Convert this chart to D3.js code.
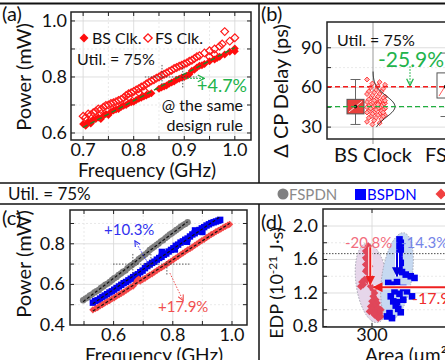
<!DOCTYPE html>
<html>
<head>
<meta charset="utf-8">
<script src="https://cdn.jsdelivr.net/npm/d3@7"></script>
<style>
  html, body { margin: 0; padding: 0; background: #fff; }
  svg { display: block; font-family: Lato, "Open Sans", sans-serif; }
</style>
</head>
<body>
<svg id="fig" width="445" height="360"></svg>
<script>
// ---- (a) power vs frequency, BS clock vs FS clock ----
const aBsClk = [[0.700,0.632],[0.705,0.626],[0.710,0.640],[0.715,0.634],[0.720,0.646],[0.725,0.650],[0.730,0.655],[0.735,0.650],[0.740,0.662],[0.745,0.668],[0.750,0.664],[0.755,0.676],[0.760,0.680],[0.765,0.684],[0.770,0.686],[0.775,0.693],[0.780,0.697],[0.785,0.700],[0.790,0.706],[0.795,0.710],[0.800,0.712],[0.805,0.718],[0.810,0.722],[0.815,0.726],[0.820,0.730],[0.825,0.734],[0.830,0.738],[0.835,0.742],[0.850,0.758],[0.855,0.762],[0.860,0.766],[0.865,0.770],[0.870,0.776],[0.875,0.780],[0.880,0.784],[0.885,0.790],[0.890,0.794],[0.895,0.798],[0.900,0.800],[0.905,0.804],[0.910,0.810],[0.915,0.822],[0.920,0.826],[0.925,0.834],[0.930,0.840],[0.935,0.842],[0.940,0.846],[0.950,0.856],[0.960,0.862],[0.965,0.868],[0.970,0.872],[0.980,0.880],[0.990,0.890],[1.000,0.902],[1.000,0.892]];
const aFsClk = [[0.700,0.660],[0.705,0.655],[0.710,0.668],[0.715,0.664],[0.720,0.672],[0.725,0.678],[0.730,0.686],[0.735,0.684],[0.740,0.692],[0.745,0.698],[0.750,0.700],[0.755,0.705],[0.760,0.708],[0.765,0.712],[0.770,0.716],[0.775,0.720],[0.780,0.726],[0.785,0.734],[0.790,0.740],[0.795,0.744],[0.800,0.748],[0.805,0.754],[0.810,0.758],[0.815,0.764],[0.820,0.768],[0.825,0.775],[0.830,0.780],[0.835,0.786],[0.840,0.790],[0.845,0.796],[0.850,0.800],[0.855,0.806],[0.860,0.810],[0.865,0.814],[0.870,0.820],[0.875,0.824],[0.880,0.830],[0.885,0.834],[0.890,0.838],[0.895,0.842],[0.900,0.846],[0.905,0.850],[0.910,0.856],[0.915,0.860],[0.920,0.866],[0.925,0.872],[0.930,0.876],[0.940,0.886],[0.950,0.894],[0.960,0.900],[0.970,0.910],[0.975,0.918],[0.980,0.962],[0.990,0.928],[1.000,0.940],[0.790,0.728],[0.810,0.745],[0.820,0.752],[0.950,0.872],[0.960,0.880]];
const aFit = [[0.70, 0.620], [1.00, 0.905]];
const aXTicks = [0.7, 0.8, 0.9, 1.0];
const aYTicks = [0.6, 0.8, 1.0];

// ---- (b) delta critical-path delay ----
const bCats = ["BS Clock", "FS Clock"];
const bQ1 = [40, 52];
const bQ3 = [51, 71];
const bLo = [32, 38];
const bHi = [66, 86];
const bMean = [45.5, 60.5];
const bBsDelay = [66,64,63,62,61,60,59,58,57,57,56,55,55,54,53,53,52,52,51,51,50,50,49,49,48,48,48,47,47,47,46,46,46,45,45,45,44,44,44,43,43,42,42,41,41,40,40,39,39,38,38,37,37,36,35,34,33,32,50,47,44,41];
const bYTicks = [30, 60, 90];

// ---- (c) power vs frequency, three PDN styles ----
const cFspdn = [[0.497,0.522],[0.505,0.530],[0.512,0.536],[0.520,0.545],[0.527,0.551],[0.535,0.560],[0.542,0.566],[0.550,0.573],[0.557,0.582],[0.565,0.590],[0.572,0.598],[0.580,0.604],[0.587,0.612],[0.595,0.622],[0.602,0.630],[0.610,0.636],[0.617,0.646],[0.625,0.654],[0.632,0.662],[0.640,0.668],[0.647,0.680],[0.655,0.688],[0.662,0.696],[0.670,0.704],[0.677,0.712],[0.685,0.724],[0.692,0.732],[0.700,0.740],[0.707,0.748],[0.715,0.758],[0.722,0.770],[0.730,0.778],[0.737,0.786],[0.745,0.794],[0.752,0.802],[0.760,0.812],[0.767,0.818],[0.775,0.828],[0.782,0.836],[0.790,0.846],[0.797,0.852],[0.805,0.860],[0.812,0.868],[0.820,0.876],[0.827,0.884],[0.835,0.892],[0.842,0.898],[0.850,0.906]];
const cBspdn = [[0.530,0.510],[0.538,0.518],[0.546,0.522],[0.554,0.530],[0.562,0.538],[0.570,0.545],[0.578,0.552],[0.586,0.560],[0.594,0.566],[0.602,0.574],[0.610,0.582],[0.618,0.590],[0.626,0.598],[0.634,0.606],[0.642,0.612],[0.650,0.620],[0.658,0.628],[0.666,0.636],[0.674,0.644],[0.682,0.650],[0.690,0.660],[0.698,0.668],[0.706,0.680],[0.714,0.690],[0.722,0.698],[0.730,0.706],[0.738,0.712],[0.746,0.722],[0.754,0.730],[0.762,0.736],[0.770,0.746],[0.778,0.752],[0.786,0.762],[0.794,0.770],[0.802,0.778],[0.810,0.790],[0.818,0.796],[0.826,0.806],[0.834,0.812],[0.842,0.820],[0.850,0.826],[0.858,0.836],[0.866,0.846],[0.874,0.852],[0.882,0.860],[0.890,0.868],[0.898,0.876],[0.906,0.882],[0.914,0.890],[0.922,0.896],[0.930,0.902],[0.938,0.906],[0.946,0.910],[0.954,0.914],[0.960,0.918],[0.763,0.760],[0.807,0.772],[0.848,0.810],[0.875,0.866],[0.900,0.858]];
const cBsClk = [[0.530,0.475],[0.538,0.480],[0.546,0.486],[0.554,0.494],[0.562,0.500],[0.570,0.508],[0.578,0.514],[0.586,0.520],[0.594,0.528],[0.602,0.534],[0.610,0.542],[0.618,0.548],[0.626,0.556],[0.634,0.562],[0.642,0.570],[0.650,0.578],[0.658,0.586],[0.666,0.592],[0.674,0.606],[0.680,0.620],[0.685,0.626],[0.690,0.616],[0.698,0.624],[0.706,0.630],[0.714,0.638],[0.722,0.646],[0.730,0.652],[0.738,0.660],[0.746,0.668],[0.754,0.676],[0.762,0.682],[0.770,0.690],[0.778,0.698],[0.786,0.706],[0.794,0.714],[0.802,0.722],[0.810,0.730],[0.818,0.738],[0.826,0.746],[0.834,0.754],[0.842,0.762],[0.850,0.770],[0.858,0.776],[0.866,0.784],[0.874,0.792],[0.882,0.800],[0.890,0.808],[0.898,0.816],[0.906,0.822],[0.914,0.830],[0.922,0.838],[0.930,0.846],[0.938,0.852],[0.946,0.860],[0.954,0.866],[0.962,0.872],[0.970,0.880],[0.978,0.886],[0.986,0.892],[0.992,0.896]];
const cXTicks = [0.6, 0.8, 1.0];
const cYTicks = [0.4, 0.6, 0.8];

// ---- (d) EDP vs area ----
const dBsClk = [[298.5,1.76],[298.5,1.72],[298.0,1.68],[298.5,1.64],[298.0,1.60],[298.5,1.56],[299.0,1.52],[298.0,1.48],[298.5,1.44],[299.0,1.40],[297.5,1.70],[297.5,1.62],[297.5,1.54],[297.5,1.46],[296.0,1.33],[295.5,1.28],[296.5,1.30],[297.0,1.36],[298.5,1.34],[299.5,1.28],[300.5,1.24],[301.0,1.20],[300.5,1.16],[301.5,1.12],[300.0,1.10],[302.0,1.08],[301.0,1.05],[299.5,1.04],[300.0,1.00],[301.5,0.98],[302.5,1.02],[303.0,0.96],[302.0,0.93],[303.5,0.92],[301.0,0.94],[302.5,0.90],[300.5,0.96],[303.5,1.00],[299.0,0.98]];
const dBspdn = [[311.0,1.84],[311.5,1.80],[311.0,1.76],[311.5,1.72],[311.0,1.68],[310.5,1.64],[311.0,1.60],[311.5,1.56],[311.0,1.52],[310.5,1.48],[312.0,1.45],[313.5,1.42],[315.5,1.40],[317.0,1.38],[306.5,1.32],[308.0,1.30],[310.0,1.33],[312.5,1.26],[309.0,1.22],[311.0,1.19],[314.0,1.22],[316.0,1.16],[307.5,1.16],[308.5,1.10],[309.5,1.05],[310.5,1.01],[311.5,0.97],[307.0,0.96],[306.0,0.92],[308.0,0.90],[310.0,1.09],[312.5,1.12]];
const dYTicks = [0.8, 1.2, 1.6, 2.0];
const dXTicks = [300];

const svg = d3.select("#fig");
const defs = svg.append("defs");
["#22b34c", "#3030ee", "#f05050"].forEach((c, i) => {
  defs.append("marker").attr("id", "arr" + i)
    .attr("viewBox", "0 0 10 10").attr("refX", 9).attr("refY", 5)
    .attr("markerWidth", 7).attr("markerHeight", 7).attr("orient", "auto")
    .append("path").attr("d", "M1,1 L9,5 L1,9").attr("fill", "none")
    .attr("stroke", c).attr("stroke-width", 1.6);
});
defs.append("marker").attr("id", "head-red").attr("viewBox", "0 0 10 10")
  .attr("refX", 9).attr("refY", 5).attr("markerWidth", 5).attr("markerHeight", 5)
  .attr("orient", "auto").append("path").attr("d", "M0,0 L10,5 L0,10 Z").attr("fill", "#ee2020");
defs.append("marker").attr("id", "head-blue").attr("viewBox", "0 0 10 10")
  .attr("refX", 9).attr("refY", 5).attr("markerWidth", 5).attr("markerHeight", 5)
  .attr("orient", "auto").append("path").attr("d", "M0,0 L10,5 L0,10 Z").attr("fill", "#0000dd");

const diamond = s => d3.symbol().type(d3.symbolSquare).size(s)();

// grid, frame and inward ticks for one panel
function frame(g, x0, x1, y0, y1, xs, ys) {
  const grid = g.append("g").attr("stroke-width", 0.8);
  xs.forEach(v => grid.append("line").attr("x1", v.p).attr("x2", v.p).attr("y1", y0).attr("y2", y1)
    .attr("stroke", v.major ? "#d6d6d6" : "#e3e3e3").attr("stroke-dasharray", v.major ? null : "2,2"));
  ys.forEach(v => grid.append("line").attr("x1", x0).attr("x2", x1).attr("y1", v.p).attr("y2", v.p)
    .attr("stroke", v.major ? "#d6d6d6" : "#e3e3e3").attr("stroke-dasharray", v.major ? null : "2,2"));
  const t = g.append("g").attr("stroke", "#222").attr("stroke-width", 1);
  xs.forEach(v => {
    t.append("line").attr("x1", v.p).attr("x2", v.p).attr("y1", y0).attr("y2", y0 - 4);
    t.append("line").attr("x1", v.p).attr("x2", v.p).attr("y1", y1).attr("y2", y1 + 4);
  });
  ys.forEach(v => {
    t.append("line").attr("x1", x0).attr("x2", x0 + 4).attr("y1", v.p).attr("y2", v.p);
    t.append("line").attr("x1", x1).attr("x2", x1 - 4).attr("y1", v.p).attr("y2", v.p);
  });
}
function border(g, x0, x1, y0, y1) {
  g.append("rect").attr("x", x0).attr("y", y1).attr("width", x1 - x0).attr("height", y0 - y1)
    .attr("fill", "none").attr("stroke", "#222").attr("stroke-width", 1.5);
}
function label(txt, x, y, size, opts = {}) {
  return svg.append("text").attr("x", x).attr("y", y).attr("font-size", size)
    .attr("fill", opts.fill || "#111").attr("text-anchor", opts.anchor || "start")
    .attr("transform", opts.rot ? `rotate(-90,${x},${y})` : null).text(txt);
}
const fmt1 = d3.format(".1f");

// ================= panel (a) =================
{
  const x = d3.scaleLinear().domain([0.676, 1.032]).range([71, 251]);
  const y = d3.scaleLinear().domain([0.575, 1.032]).range([140, 12]);
  const g = svg.append("g");
  const xs = [0.7, 0.75, 0.8, 0.85, 0.9, 0.95, 1.0].map(v => ({ p: x(v), major: aXTicks.includes(v) }));
  const ys = [0.6, 0.7, 0.8, 0.9, 1.0].map(v => ({ p: y(v), major: aYTicks.includes(v) }));
  frame(g, 71, 251, 140, 12, xs, ys);

  g.selectAll(".fs").data(aFsClk).join("path")
    .attr("d", diamond(30)).attr("transform", d => `translate(${x(d[0])},${y(d[1])}) rotate(45)`)
    .attr("fill", "none").attr("stroke", "#ff1a1a").attr("stroke-width", 1.2);
  g.selectAll(".bs").data(aBsClk).join("path")
    .attr("d", diamond(32)).attr("transform", d => `translate(${x(d[0])},${y(d[1])}) rotate(45)`)
    .attr("fill", "#ff0d0d");
  g.append("path").datum(aFit).attr("d", d3.line().x(d => x(d[0])).y(d => y(d[1])))
    .attr("stroke", "#1a8a2a").attr("stroke-width", 1.4).attr("stroke-dasharray", "5,3").attr("fill", "none");

  // cross-hair guides
  const ch = g.append("g").attr("stroke", "#333").attr("stroke-width", 0.8).attr("stroke-dasharray", "1.5,1.5");
  ch.append("line").attr("x1", x(0.822)).attr("x2", x(0.925)).attr("y1", y(0.80)).attr("y2", y(0.80));
  ch.append("line").attr("x1", x(0.856)).attr("x2", x(0.856)).attr("y1", y(0.843)).attr("y2", y(0.771));
  ch.append("line").attr("x1", x(0.897)).attr("x2", x(0.897)).attr("y1", y(0.843)).attr("y2", y(0.761));
  g.append("line").attr("x1", x(0.90)).attr("x2", x(0.94)).attr("y1", y(0.795)).attr("y2", y(0.795))
    .attr("stroke", "#22b34c").attr("stroke-width", 1.2).attr("stroke-dasharray", "1.5,1.5")
    .attr("marker-end", "url(#arr0)");
  border(g, 71, 251, 140, 12);

  aYTicks.forEach(v => label(fmt1(v), 67, y(v) + 6, 18, { anchor: "end" }));
  aXTicks.forEach(v => label(fmt1(v), x(v), 156, 18, { anchor: "middle" }));
  label("Frequency (GHz)", 147, 177, 19, { anchor: "middle" });
  label("Power (mW)", 31, 77, 20, { anchor: "middle", rot: true });
  label("(a)", 2, 21, 20);

  // legend
  g.append("path").attr("d", diamond(40)).attr("transform", "translate(84,38) rotate(45)").attr("fill", "#ff0d0d");
  label("BS Clk.", 92, 44, 16);
  g.append("path").attr("d", diamond(34)).attr("transform", "translate(148,38) rotate(45)")
    .attr("fill", "#fff").attr("stroke", "#ff1a1a").attr("stroke-width", 1.4);
  label("FS Clk.", 155, 44, 16);
  label("Util. = 75%", 77, 65, 16);
  label("+4.7%", 197, 92, 18, { fill: "#22b34c" });
  label("@ the same", 243, 111, 16, { anchor: "end" });
  label("design rule", 243, 131, 16, { anchor: "end" });
}

// ================= panel (b) =================
{
  const x = d3.scalePoint().domain(bCats).range([373, 463]);
  const y = d3.scaleLinear().domain([21, 109.5]).range([139, 22]);
  const g = svg.append("g");
  const ys = [30, 45, 60, 75, 90].map(v => ({ p: y(v), major: bYTicks.includes(v) }));
  frame(g, 327, 530, 139, 22, [], ys);
  bCats.forEach(c => {
    g.append("line").attr("x1", x(c)).attr("x2", x(c)).attr("y1", 22).attr("y2", 144)
      .attr("stroke", "#999").attr("stroke-width", 1);
  });

  // scatter of BS clock designs
  g.selectAll(".pt").data(bBsDelay).join("path")
    .attr("d", diamond(12))
    .attr("transform", (d, i) => `translate(${x("BS Clock") - 6 + ((i * 7) % 11) * 1.8},${y(d)}) rotate(45)`)
    .attr("fill", "#ffb0b0").attr("stroke", "#f22").attr("stroke-width", 0.8);

  // fitted normal curve
  const mu = bMean[0], sd = 8;
  const vals = d3.range(30, 72.5, 0.5);
  g.append("path").datum(vals)
    .attr("d", d3.line().x(v => x("BS Clock") + 22 * Math.exp(-((v - mu) ** 2) / (2 * sd * sd))).y(v => y(v)).curve(d3.curveBasis))
    .attr("fill", "none").attr("stroke", "#222").attr("stroke-width", 1);

  // boxes
  bCats.forEach((c, i) => {
    const cx = x(c) - 17.5, w = 17;
    g.append("line").attr("x1", cx).attr("x2", cx).attr("y1", y(bLo[i])).attr("y2", y(bHi[i]))
      .attr("stroke", "#666").attr("stroke-width", 1);
    [bLo[i], bHi[i]].forEach(v => g.append("line").attr("x1", cx - 5).attr("x2", cx + 5)
      .attr("y1", y(v)).attr("y2", y(v)).attr("stroke", "#666").attr("stroke-width", 1));
    g.append("rect").attr("x", cx - w / 2).attr("y", y(bQ3[i])).attr("width", w)
      .attr("height", y(bQ1[i]) - y(bQ3[i]))
      .attr("fill", i === 0 ? "#e8403c" : "#fff").attr("stroke", "#555").attr("stroke-width", 1);
    g.append("line").attr("x1", cx - w / 2 + 2).attr("x2", cx + w / 2 - 2)
      .attr("y1", y(bQ1[i]) - 2).attr("y2", y(bQ3[i]) + 2)
      .attr("stroke", i === 0 ? "#fff" : "#f33").attr("stroke-width", 0.8);
    g.append("circle").attr("cx", cx).attr("cy", y(bMean[i])).attr("r", 1.8).attr("fill", "#111");
  });

  g.append("line").attr("x1", 327).attr("x2", 445).attr("y1", y(bMean[1])).attr("y2", y(bMean[1]))
    .attr("stroke", "#f41c1c").attr("stroke-width", 1.4).attr("stroke-dasharray", "5,3");
  g.append("line").attr("x1", 327).attr("x2", 445).attr("y1", y(bMean[0])).attr("y2", y(bMean[0]))
    .attr("stroke", "#1fae3f").attr("stroke-width", 1.4).attr("stroke-dasharray", "5,3");
  g.append("line").attr("x1", 410).attr("x2", 410).attr("y1", y(76)).attr("y2", y(61.5))
    .attr("stroke", "#22b34c").attr("stroke-width", 1.2).attr("stroke-dasharray", "1.5,1.5")
    .attr("marker-end", "url(#arr0)");
  border(g, 327, 530, 139, 22);

  bYTicks.forEach(v => label(v, 322, y(v) + 6, 18, { anchor: "end" }));
  bCats.forEach(c => label(c, x(c), 162, 20, { anchor: "middle" }));
  label("\u0394 CP Delay (ps)", 288, 91, 20, { anchor: "middle", rot: true });
  label("(b)", 261, 21, 20);
  label("Util. = 75%", 337, 46, 16);
  label("-25.9%", 378, 67, 21, { fill: "#22b34c" });
}

// ================= panel (c) =================
{
  const x = d3.scaleLinear().domain([0.4527, 1.0507]).range([70, 247]);
  const y = d3.scaleLinear().domain([0.4, 0.9665]).range([325, 210]);
  const g = svg.append("g");
  const xs = [0.5, 0.6, 0.7, 0.8, 0.9, 1.0].map(v => ({ p: x(v), major: cXTicks.includes(v) }));
  const ys = [0.5, 0.6, 0.7, 0.8, 0.9].map(v => ({ p: y(v), major: cYTicks.includes(v) }));
  frame(g, 70, 247, 325, 210, xs, ys);

  g.selectAll(".gr").data(cFspdn).join("circle")
    .attr("cx", d => x(d[0])).attr("cy", d => y(d[1])).attr("r", 3.2).attr("fill", "#7f7f7f");
  g.selectAll(".bl").data(cBspdn).join("rect")
    .attr("x", d => x(d[0]) - 3.2).attr("y", d => y(d[1]) - 3.2).attr("width", 6.4).attr("height", 6.4)
    .attr("fill", "#0000f0");
  g.selectAll(".rd").data(cBsClk).join("path")
    .attr("d", diamond(26)).attr("transform", d => `translate(${x(d[0])},${y(d[1])}) rotate(45)`)
    .attr("fill", "#f44848");

  // least-squares trend lines
  [cFspdn, cBspdn, cBsClk].forEach(s => {
    const mx = d3.mean(s, d => d[0]), my = d3.mean(s, d => d[1]);
    const k = d3.sum(s, d => (d[0] - mx) * (d[1] - my)) / d3.sum(s, d => (d[0] - mx) ** 2);
    const [f0, f1] = d3.extent(s, d => d[0]);
    g.append("line").attr("x1", x(f0)).attr("x2", x(f1))
      .attr("y1", y(my + k * (f0 - mx))).attr("y2", y(my + k * (f1 - mx)))
      .attr("stroke", "#111").attr("stroke-width", 1.2).attr("stroke-dasharray", "3,2");
  });

  const ch = g.append("g").attr("stroke", "#333").attr("stroke-width", 0.8).attr("stroke-dasharray", "1.5,1.5");
  ch.append("line").attr("x1", x(0.598)).attr("x2", x(0.858)).attr("y1", y(0.70)).attr("y2", y(0.70));
  ch.append("line").attr("x1", x(0.665)).attr("x2", x(0.665)).attr("y1", y(0.75)).attr("y2", y(0.655));
  ch.append("line").attr("x1", x(0.726)).attr("x2", x(0.726)).attr("y1", y(0.75)).attr("y2", y(0.68));
  ch.append("line").attr("x1", x(0.78)).attr("x2", x(0.78)).attr("y1", y(0.715)).attr("y2", y(0.645));
  g.append("line").attr("x1", x(0.716)).attr("x2", x(0.672)).attr("y1", y(0.705)).attr("y2", y(0.815))
    .attr("stroke", "#3030ee").attr("stroke-width", 1).attr("stroke-dasharray", "1.5,1.5")
    .attr("marker-end", "url(#arr1)");
  g.append("line").attr("x1", x(0.79)).attr("x2", x(0.835)).attr("y1", y(0.656)).attr("y2", y(0.52))
    .attr("stroke", "#f05050").attr("stroke-width", 1).attr("stroke-dasharray", "1.5,1.5")
    .attr("marker-end", "url(#arr2)");
  border(g, 70, 247, 325, 210);

  cYTicks.forEach(v => label(fmt1(v), 65, y(v) + 6, 18, { anchor: "end" }));
  cXTicks.forEach(v => label(fmt1(v), x(v), 341, 18, { anchor: "middle" }));
  label("Frequency (GHz)", 154, 362, 19, { anchor: "middle" });
  label("Power (mW)", 31, 264, 20, { anchor: "middle", rot: true });
  label("(c)", 2, 225, 20);
  label("+10.3%", 104, 235, 15, { fill: "#3030ee" });
  label("+17.9%", 158, 312, 15, { fill: "#f05050" });
}

// ================= panel (d) =================
{
  const x = d3.scaleLinear().domain([280.4, 330]).range([323, 447]);
  const y = d3.scaleLinear().domain([0.794, 2.203]).range([327, 209]);
  const g = svg.append("g");
  const xs = [300].map(v => ({ p: x(v), major: true }));
  const ys = [0.8, 1.0, 1.2, 1.4, 1.6, 1.8, 2.0].map(v => ({ p: y(v), major: dYTicks.includes(v) }));
  frame(g, 323, 470, 327, 209, xs, ys);

  g.append("ellipse").attr("cx", x(300)).attr("cy", y(1.32)).attr("rx", 16).attr("ry", 40)
    .attr("transform", `rotate(-8,${x(300)},${y(1.32)})`)
    .attr("fill", "#e6d6ea").attr("stroke", "#9a9aa8").attr("stroke-width", 0.8).attr("stroke-dasharray", "1.5,1.5");
  g.append("ellipse").attr("cx", x(310)).attr("cy", y(1.40)).attr("rx", 15).attr("ry", 44)
    .attr("transform", `rotate(9,${x(310)},${y(1.40)})`)
    .attr("fill", "#c6d9f1").attr("stroke", "#9a9aa8").attr("stroke-width", 0.8).attr("stroke-dasharray", "1.5,1.5");

  g.append("line").attr("x1", 323).attr("x2", 470).attr("y1", y(1.67)).attr("y2", y(1.67))
    .attr("stroke", "#222").attr("stroke-width", 0.8).attr("stroke-dasharray", "1.5,1.5");

  g.selectAll(".rd").data(dBsClk).join("path")
    .attr("d", diamond(30)).attr("transform", d => `translate(${x(d[0])},${y(d[1])}) rotate(45)`)
    .attr("fill", "#e0475a");
  g.selectAll(".bl").data(dBspdn).join("rect")
    .attr("x", d => x(d[0]) - 3.3).attr("y", d => y(d[1]) - 3.3).attr("width", 6.6).attr("height", 6.6)
    .attr("fill", "#0000ee");

  const arrow = (a0, e0, a1, e1, col, head) => {
    g.append("line").attr("x1", x(a0)).attr("x2", x(a1)).attr("y1", y(e0)).attr("y2", y(e1))
      .attr("stroke", "#fff").attr("stroke-width", 4);
    g.append("line").attr("x1", x(a0)).attr("x2", x(a1)).attr("y1", y(e0)).attr("y2", y(e1))
      .attr("stroke", col).attr("stroke-width", 2).attr("marker-end", `url(#${head})`);
  };
  arrow(299.3, 1.75, 299.3, 1.30, "#ee2020", "head-red");
  arrow(310.0, 1.68, 310.0, 1.40, "#0000dd", "head-blue");
  arrow(332, 1.27, 300.6, 1.27, "#ee2020", "head-red");
  border(g, 323, 470, 327, 209);

  dYTicks.forEach(v => label(fmt1(v), 318, y(v) + 6, 18, { anchor: "end" }));
  dXTicks.forEach(v => label(v, x(v), 341, 18, { anchor: "middle" }));
  label("Area (\u03bcm\u00b2)", 365, 362, 19);
  const t = label("EDP (10", 283, 283, 18, { anchor: "middle", rot: true });
  t.append("tspan").attr("dy", -6).attr("font-size", 12).text("-21");
  t.append("tspan").attr("dy", 6).text(" J\u00b7s)");
  label("(d)", 261, 229, 20);
  label("-20.8%", 345, 248, 15, { fill: "#f26d7d" });
  label("-14.3%", 401, 248, 15, { fill: "#7484e8" });
  label("-17.9%", 412, 304, 16, { fill: "#ee2d2d" });
}

// ================= separators and shared legend =================
svg.append("line").attr("x1", 0).attr("x2", 445).attr("y1", 3.5).attr("y2", 3.5).attr("stroke", "#111").attr("stroke-width", 2);
svg.append("line").attr("x1", 259).attr("x2", 259).attr("y1", 4).attr("y2", 183).attr("stroke", "#111").attr("stroke-width", 1.5);
svg.append("line").attr("x1", 0).attr("x2", 445).attr("y1", 183).attr("y2", 183).attr("stroke", "#111").attr("stroke-width", 1.5);
svg.append("line").attr("x1", 0).attr("x2", 445).attr("y1", 204).attr("y2", 204).attr("stroke", "#111").attr("stroke-width", 1.5);
svg.append("line").attr("x1", 259).attr("x2", 259).attr("y1", 204).attr("y2", 360).attr("stroke", "#111").attr("stroke-width", 1.5);

label("Util. = 75%", 8, 200, 17);
svg.append("circle").attr("cx", 283).attr("cy", 194).attr("r", 5.5).attr("fill", "#808080");
label("FSPDN", 289, 200, 15, { fill: "#8a8a8a" });
svg.append("rect").attr("x", 355).attr("y", 189).attr("width", 11).attr("height", 11).attr("fill", "#0000ff");
label("BSPDN", 367, 200, 15, { fill: "#0000ff" });
svg.append("path").attr("d", diamond(60)).attr("transform", "translate(441,194) rotate(45)").attr("fill", "#f04040");
</script>
</body>
</html>
